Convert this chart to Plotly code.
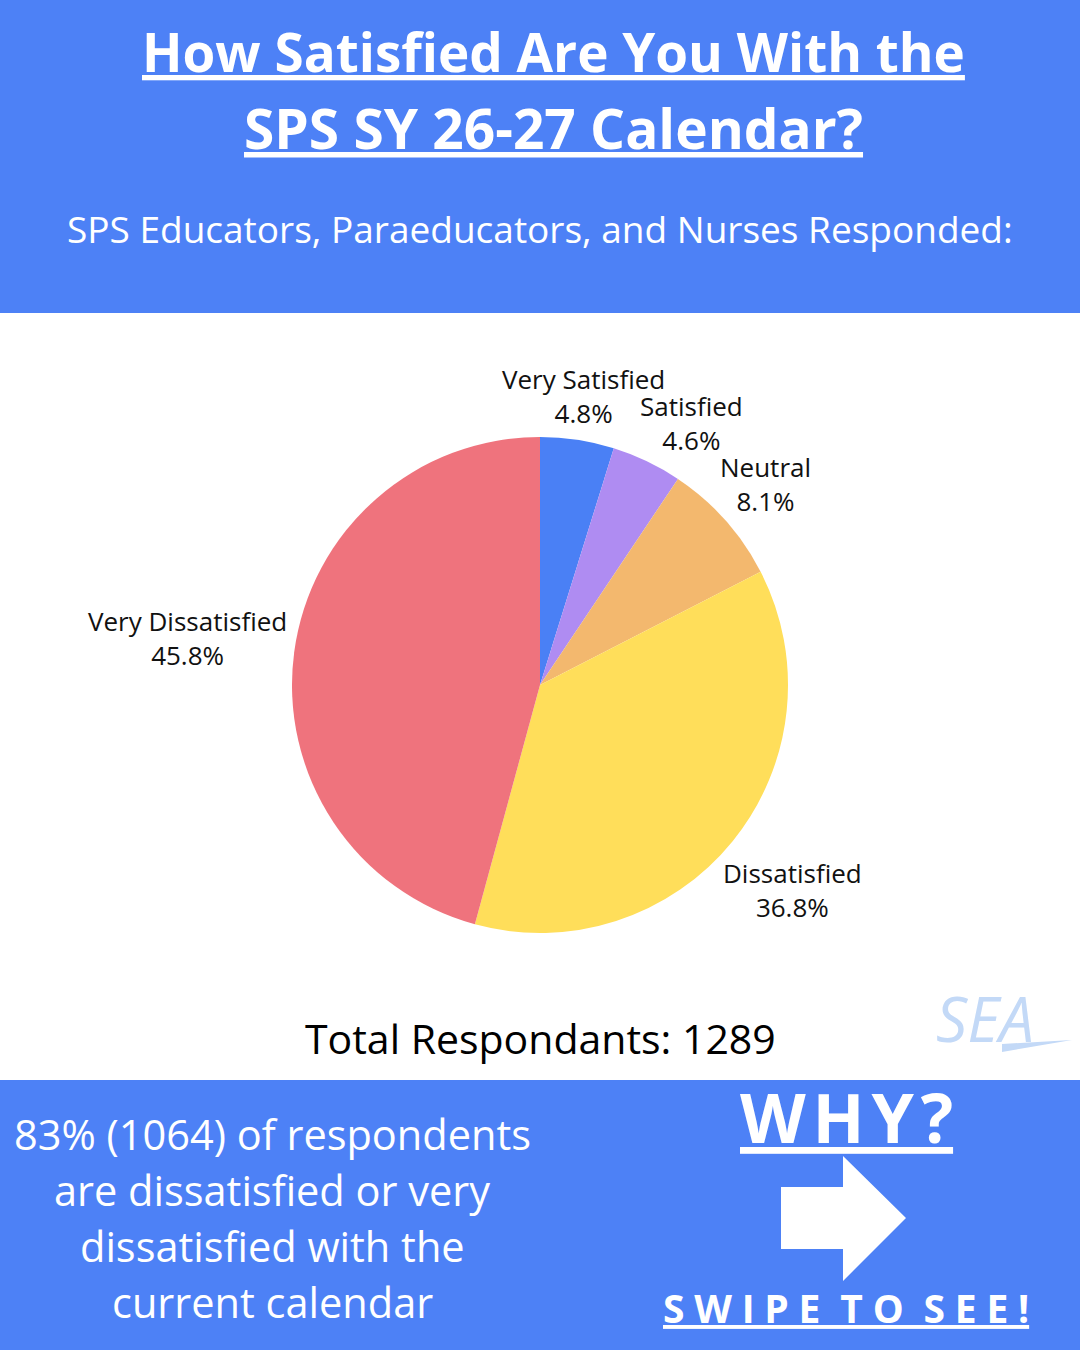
import math

import plotly.graph_objects as go

# survey data
labels = ["Very Satisfied", "Satisfied", "Neutral", "Dissatisfied", "Very Dissatisfied"]
counts = [62, 59, 104, 474, 590]
colors = ["#4A80F5", "#AF8CF2", "#F3B86E", "#FFDE5A", "#EF737D"]

title_lines = ["How Satisfied Are You With the", "SPS SY 26-27 Calendar?"]
subtitle = "SPS Educators, Paraeducators, and Nurses Responded:"
total_text = "Total Respondants: " + str(sum(counts))
summary_lines = ["83% (1064) of respondents", "are dissatisfied or very",
                 "dissatisfied with the", "current calendar"]

W, H = 1080, 1350
BLUE = "#4D81F6"
FONT = "Open Sans"

# pie geometry (pixels)
CX, CY, R = 540, 685, 248
LBL = 26


def px(x):
    return x / W


def py(y):
    return 1 - y / H


fig = go.Figure()

fig.add_trace(go.Pie(
    labels=labels,
    values=counts,
    sort=False,
    direction="clockwise",
    rotation=0,
    marker=dict(colors=colors, line=dict(width=0)),
    textinfo="none",
    hoverinfo="label+value+percent",
    showlegend=False,
    domain=dict(x=[0.0, 1.0], y=[py(CY + R), py(CY - R)]),
))

shapes = [
    dict(type="rect", xref="paper", yref="paper", x0=0, x1=1, y0=py(313), y1=1,
         fillcolor=BLUE, line=dict(width=0), layer="below"),
    dict(type="rect", xref="paper", yref="paper", x0=0, x1=1, y0=0, y1=py(1080),
         fillcolor=BLUE, line=dict(width=0), layer="below"),
]

# arrow
arrow = [(781, 1187), (843, 1187), (843, 1156), (906, 1218), (843, 1281), (843, 1249), (781, 1249)]
path = "M " + " L ".join(f"{px(x)},{py(y)}" for x, y in arrow) + " Z"
shapes.append(dict(type="path", xref="paper", yref="paper", path=path,
                   fillcolor="white", line=dict(width=0)))

# SEA logo stroke
logo = [(1002, 1052), (1072, 1040), (1002, 1044)]
shapes.append(dict(type="path", xref="paper", yref="paper",
                   path="M " + " L ".join(f"{px(x)},{py(y)}" for x, y in logo) + " Z",
                   fillcolor="#C3D9F7", line=dict(width=0)))

annotations = []


def add_text(text, x, y, size, color="white", bold=False, italic=False):
    annotations.append(dict(
        text=text, x=px(x), y=py(y), xref="paper", yref="paper",
        xanchor="center", yanchor="middle", showarrow=False,
        font=dict(family=FONT, size=size, color=color,
                  weight="bold" if bold else "normal",
                  style="italic" if italic else "normal"),
    ))


def overlaps(a, b):
    return a[0] < b[2] and b[0] < a[2] and a[1] < b[3] and b[1] < a[3]


# slice labels: centred on the slice's mid angle, just outside the pie,
# nudged clockwise when they would run into the previous label
total = sum(counts)
placed = []
cum = 0
for lab, v in zip(labels, counts):
    pct = f"{100 * v / total:.1f}%"
    theta = 2 * math.pi * (cum + v / 2) / total
    cum += v
    w1 = 0.45 * LBL * len(lab)
    w2 = 0.55 * LBL * len(pct)
    hw, hh = max(w1, w2) / 2, 26
    while True:
        s, c = math.sin(theta), math.cos(theta)
        d = R + 6 + hw * abs(s) + hh * abs(c)
        x, y = CX + d * s, CY - d * c
        boxes = [(x - w1 / 2, y - hh, x + w1 / 2, y), (x - w2 / 2, y, x + w2 / 2, y + hh)]
        if not any(overlaps(b, p) for b in boxes for p in placed):
            break
        theta += math.radians(0.5)
    placed += boxes
    add_text(f"{lab}<br>{pct}", x, y, LBL, color="#111111")

add_text("<u>" + title_lines[0] + "</u>", 553, 52, 53, bold=True)
add_text("<u>" + title_lines[1] + "</u>", 553, 127, 55, bold=True)
add_text(subtitle, 540, 229, 37)
add_text(total_text, 540, 1038, 41, color="black")

for i, line in enumerate(summary_lines):
    add_text(line, 272, 1134 + 56 * i, 41.5)

add_text("<u>W\u200aH\u200aY\u200a?</u>", 846, 1116, 68, bold=True)
add_text("<u>S\u2005W\u2005I\u2005P\u2005E\u2005 T\u2005O\u2005 S\u2005E\u2005E\u2005!</u>", 846, 1307, 39, bold=True)
add_text("SEA", 985, 1018, 62, color="#C3D9F7", italic=True)

fig.update_layout(
    width=W, height=H,
    margin=dict(l=0, r=0, t=0, b=0, autoexpand=False),
    paper_bgcolor="white",
    plot_bgcolor="white",
    shapes=shapes,
    annotations=annotations,
)

fig.write_html("out.html", config={"displayModeBar": False},
               post_script="document.body.style.margin = '0';")
